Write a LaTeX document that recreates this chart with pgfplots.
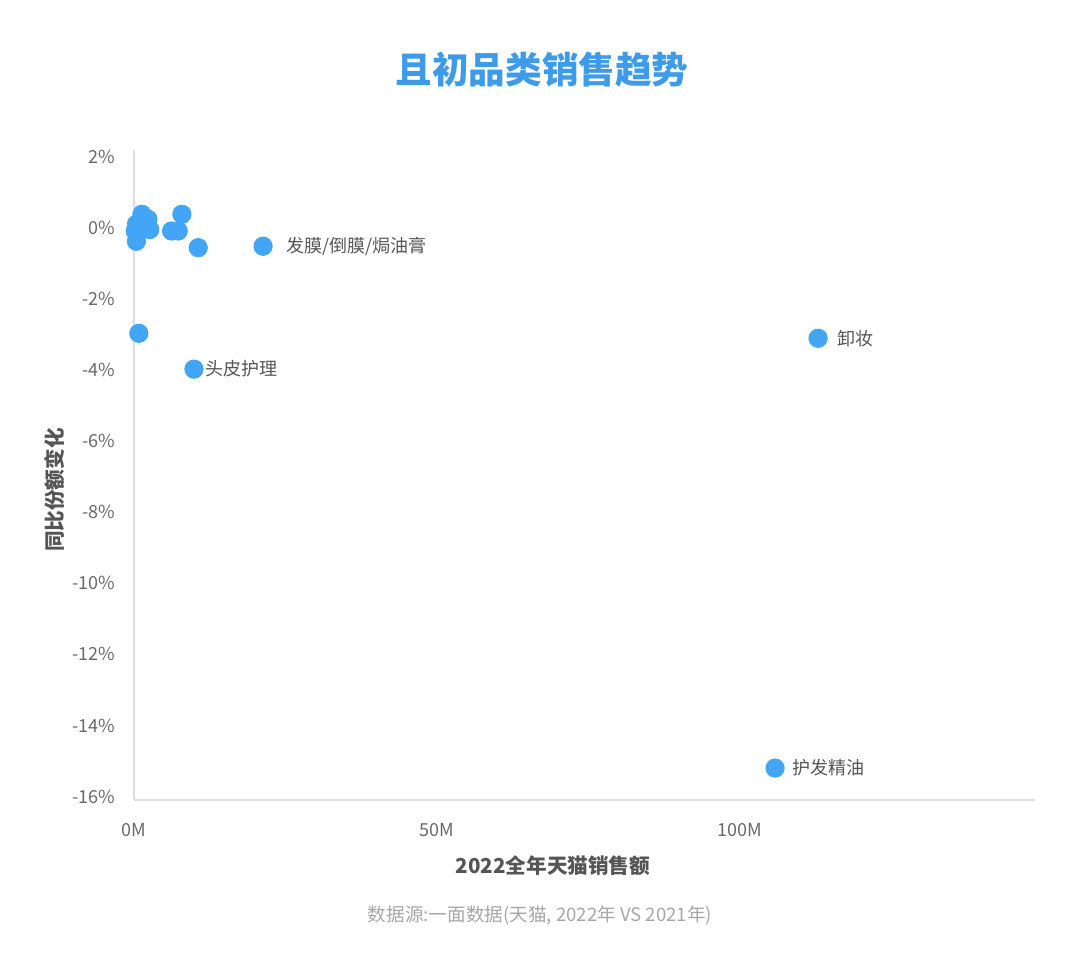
\documentclass[border=0pt]{standalone}
\usepackage{pgfplots}
\pgfplotsset{compat=1.18}
\usepackage{fontspec}
\setmainfont{Noto Sans CJK SC}
\usetikzlibrary{calc}
\definecolor{dotblue}{RGB}{66,165,245}
\definecolor{titleblue}{RGB}{61,155,233}
\definecolor{txtgray}{RGB}{85,85,85}
\definecolor{tickgray}{RGB}{105,105,105}
\definecolor{linegray}{RGB}{222,222,222}
\begin{document}
\begin{tikzpicture}
\begin{axis}[
    name=ax,
    scale only axis,
    width=450.5pt, height=325pt,
    xmin=0, xmax=148.7,
    ymin=-16.1, ymax=2.2,
    axis x line=bottom, axis y line=left,
    axis line style={-, linegray, line width=0.8pt},
    major tick length=0pt,
    xtick={0,50,100}, xticklabels={0M,50M,100M},
    ytick={2,0,-2,-4,-6,-8,-10,-12,-14,-16},
    yticklabels={2\%,0\%,-2\%,-4\%,-6\%,-8\%,-10\%,-12\%,-14\%,-16\%},
    ticklabel style={font=\fontsize{9}{10}\selectfont, text=tickgray},
    yticklabel style={xshift=-6pt},
    xticklabel style={yshift=-8pt},
    clip=false,
]
\addplot[only marks, mark=*, mark size=4.6pt, color=dotblue,
    mark options={draw=dotblue, fill=dotblue}]
coordinates {
    (1.3,0.39) (2.3,0.25) (2.6,-0.04) (1.5,0.0) (0.4,0.11) (0.2,-0.08)
    (0.4,-0.37) (6.2,-0.08) (7.3,-0.08) (7.9,0.39) (10.6,-0.55)
    (21.3,-0.51) (0.8,-2.96) (9.9,-3.97) (112.9,-3.1) (105.8,-15.2)
};
\node[anchor=west, font=\fontsize{9}{10}\selectfont, text=txtgray] at (axis cs:21.3,-0.51) [xshift=8pt] {发膜/倒膜/焗油膏};
\node[anchor=west, font=\fontsize{9}{10}\selectfont, text=txtgray] at (axis cs:9.9,-3.97) [xshift=2pt] {头皮护理};
\node[anchor=west, font=\fontsize{9}{10}\selectfont, text=txtgray] at (axis cs:112.9,-3.1) [xshift=6pt] {卸妆};
\node[anchor=west, font=\fontsize{9}{10}\selectfont, text=txtgray] at (axis cs:105.8,-15.2) [xshift=5pt] {护发精油};
\end{axis}
\path[use as bounding box] ($(ax.south west)+(-67pt,-82.5pt)$) rectangle ($(ax.south west)+(473pt,400pt)$);
\node[font=\fontsize{18.3}{20}\selectfont\bfseries, text=titleblue] at ($(ax.south west)+(204pt,365pt)$) {且初品类销售趋势};
\node[font=\fontsize{10.3}{12}\selectfont\bfseries, text=txtgray] at ($(ax.south west)+(209.5pt,-33pt)$) {2022全年天猫销售额};
\node[font=\fontsize{10.3}{12}\selectfont\bfseries, text=txtgray, rotate=90] at ($(ax.south west)+(-39.5pt,155pt)$) {同比份额变化};
\node[font=\fontsize{9.3}{11}\selectfont, text=gray!70] at ($(ax.south west)+(203pt,-57.5pt)$) {数据源:一面数据(天猫, 2022年 VS 2021年)};
\end{tikzpicture}
\end{document}
